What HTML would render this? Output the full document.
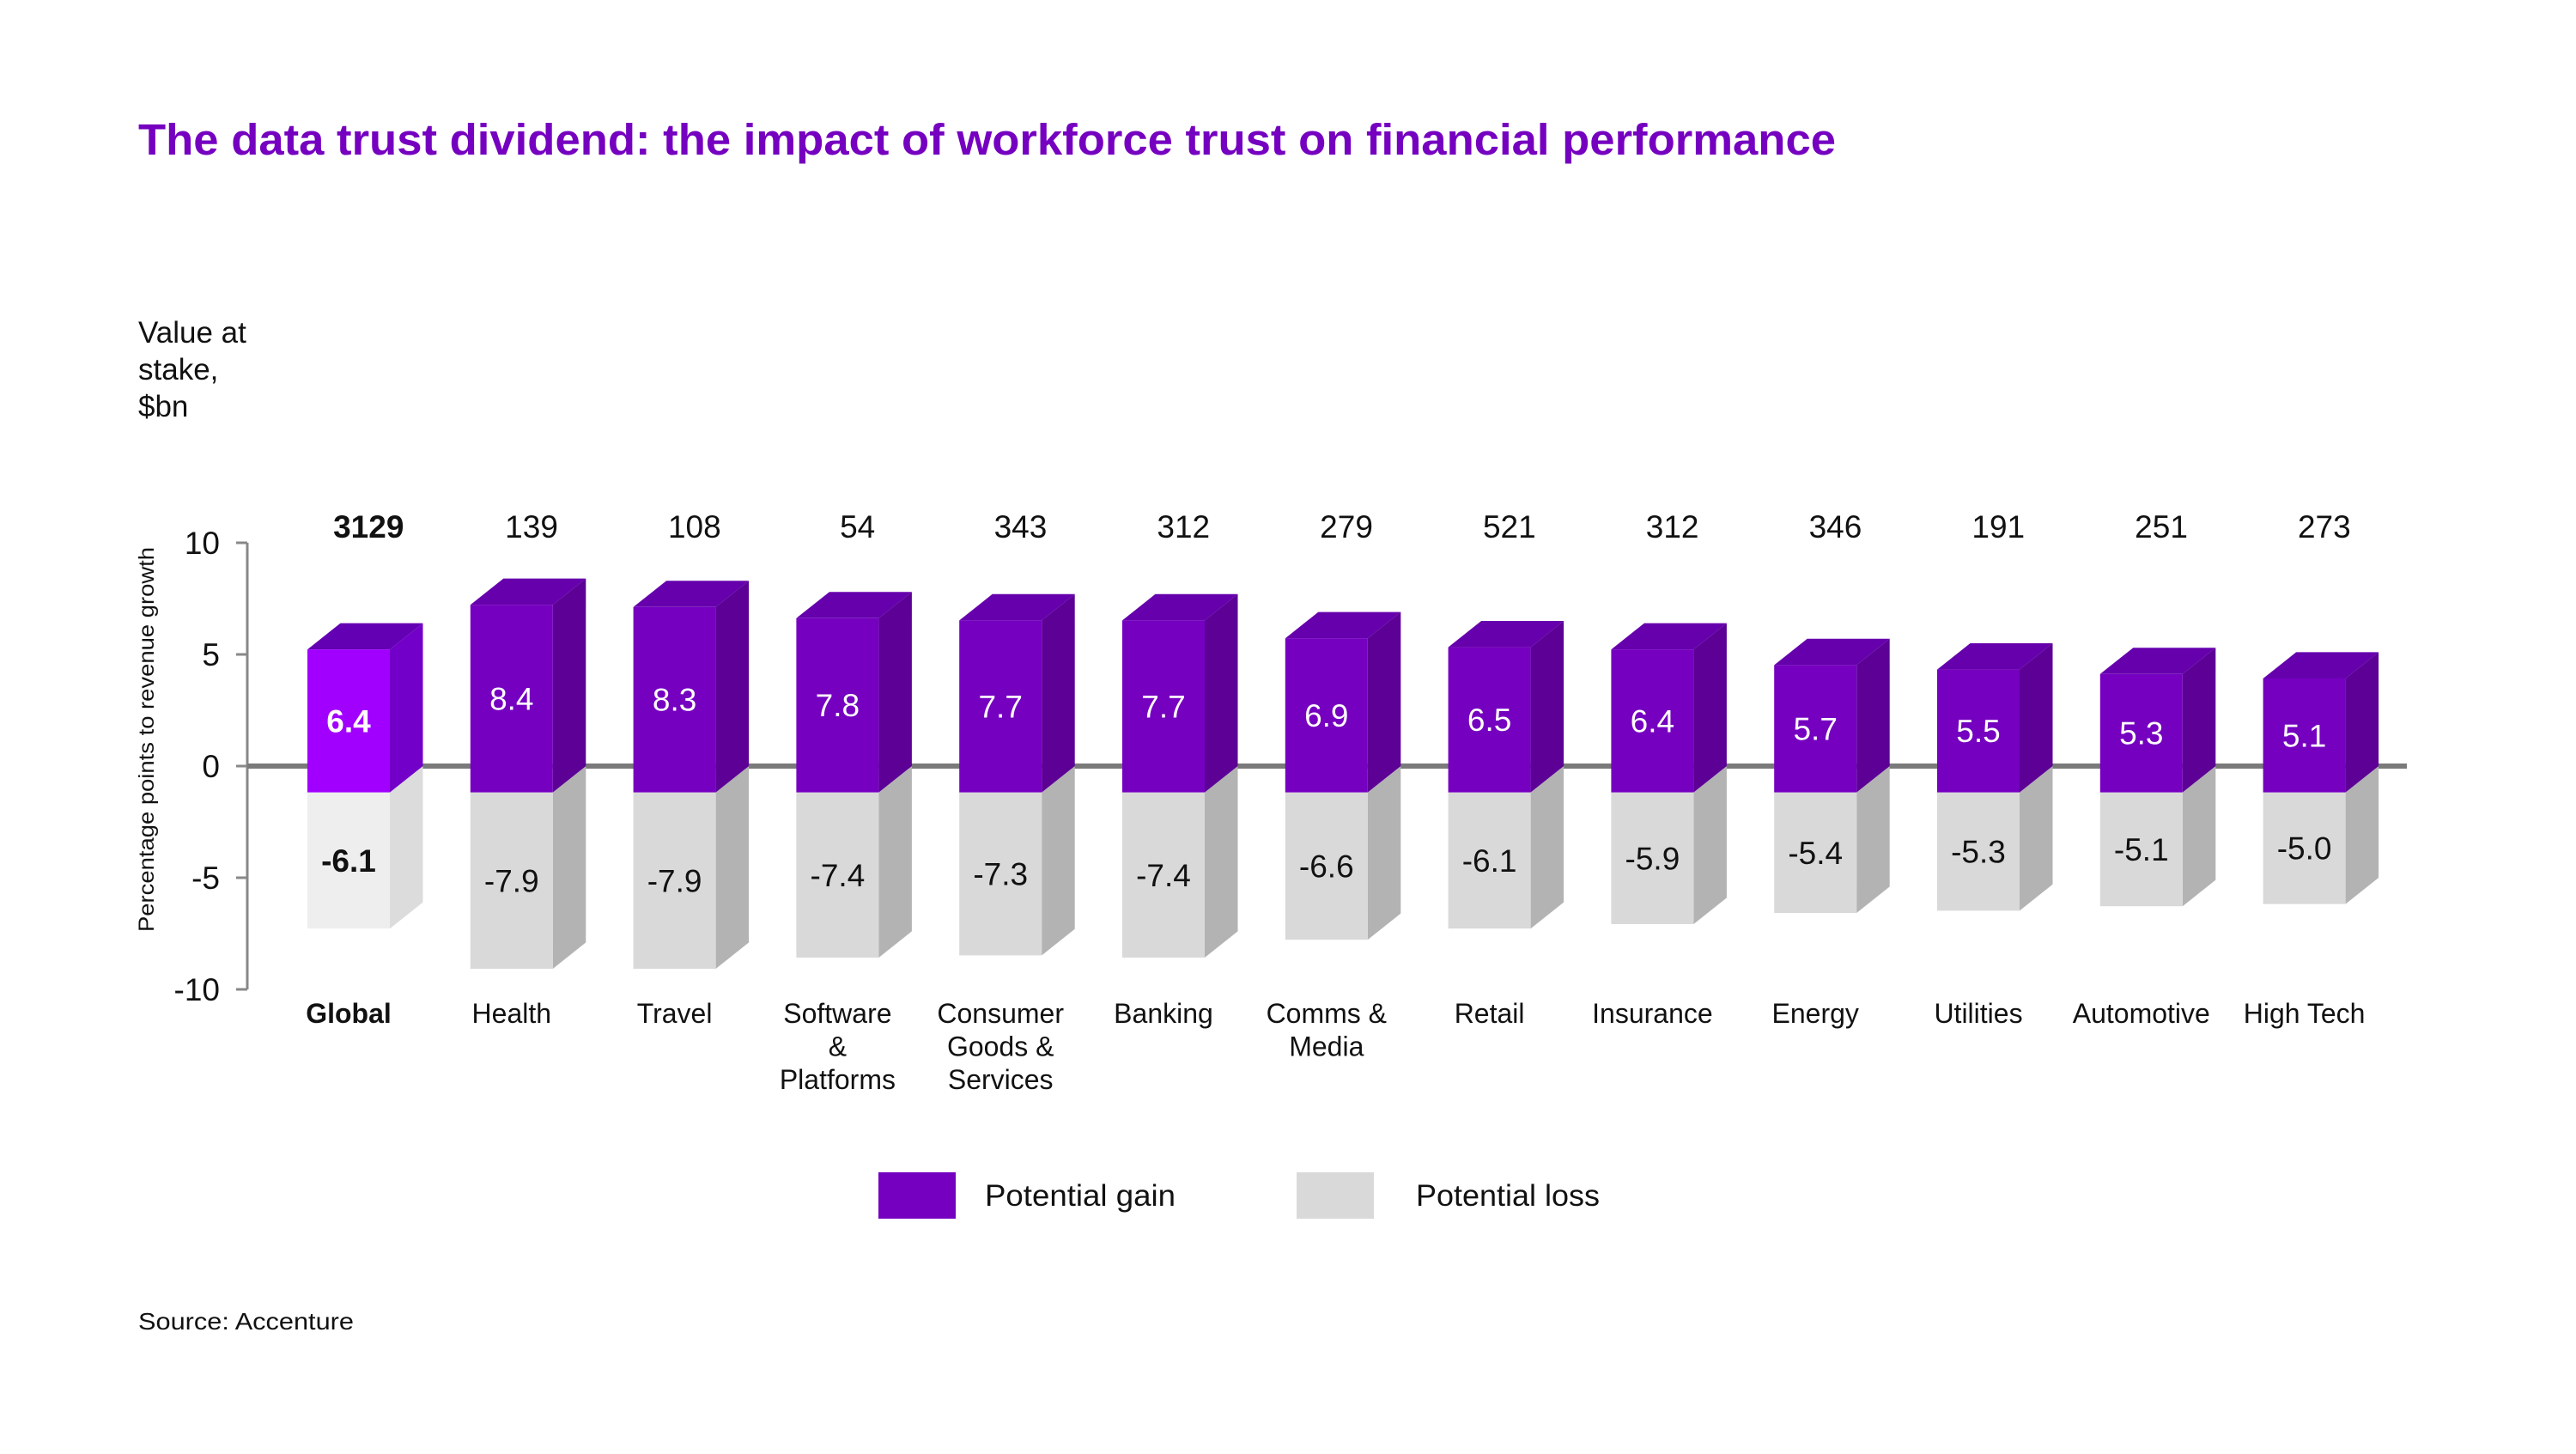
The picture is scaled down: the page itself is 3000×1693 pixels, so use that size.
<!DOCTYPE html>
<html><head><meta charset="utf-8"><style>
html,body{margin:0;padding:0;background:#fff;}
body{width:3000px;height:1688px;overflow:hidden;font-family:"Liberation Sans",sans-serif;}
svg text{font-family:"Liberation Sans",sans-serif;}
</style></head><body>
<svg id="chart" width="3000" height="1688" viewBox="0 0 3000 1688" xmlns="http://www.w3.org/2000/svg">
<text x="161" y="180" font-size="51" font-weight="bold" fill="#7500c0" textLength="1977" lengthAdjust="spacingAndGlyphs">The data trust dividend: the impact of workforce trust on financial performance</text>
<g font-size="35" fill="#111">
<text x="161" y="399">Value at</text><text x="161" y="442">stake,</text><text x="161" y="485">$bn</text>
</g>
<text transform="translate(179,861) rotate(-90)" text-anchor="middle" font-size="25" fill="#111" textLength="448" lengthAdjust="spacingAndGlyphs">Percentage points to revenue growth</text>
<g id="axis"></g>
<g id="bars"></g>
<g>
<rect x="1023" y="1365" width="90" height="54" fill="#7500c0"/>
<text x="1147" y="1404" font-size="35" fill="#111" textLength="222" lengthAdjust="spacingAndGlyphs">Potential gain</text>
<rect x="1510" y="1365" width="90" height="54" fill="#d9d9d9"/>
<text x="1649" y="1404" font-size="35" fill="#111" textLength="214" lengthAdjust="spacingAndGlyphs">Potential loss</text>
</g>
<text x="161" y="1548" font-size="28" fill="#111" textLength="251" lengthAdjust="spacingAndGlyphs">Source: Accenture</text>
</svg>
<script>
const categories=[["Global"],["Health"],["Travel"],["Software","&","Platforms"],["Consumer","Goods &","Services"],["Banking"],["Comms &","Media"],["Retail"],["Insurance"],["Energy"],["Utilities"],["Automotive"],["High Tech"]];
const gains=[6.4,8.4,8.3,7.8,7.7,7.7,6.9,6.5,6.4,5.7,5.5,5.3,5.1];
const losses=[-6.1,-7.9,-7.9,-7.4,-7.3,-7.4,-6.6,-6.1,-5.9,-5.4,-5.3,-5.1,-5.0];
const stakes=["3129","139","108","54","343","312","279","521","312","346","191","251","273"];
const yTicks=[10,5,0,-5,-10];

const NS="http://www.w3.org/2000/svg";
const zeroY=892, k=26.0;
function y(v){return zeroY-v*k;}
function xb(i){return 358+i*189.8;}
const W=96,D=38.5,DY=30.6;
function mk(tag,attrs,parent,txt){const e=document.createElementNS(NS,tag);for(const a in attrs)e.setAttribute(a,attrs[a]);if(txt!==undefined)e.textContent=txt;parent.appendChild(e);return e;}
const ax=document.getElementById('axis');
let l=mk('line',{x1:288,y1:y(10),x2:288,y2:y(-10),stroke:'#888','stroke-width':3},ax);


yTicks.forEach(t=>{
 const tk=mk('line',{x1:275,y1:y(t),x2:288,y2:y(t),stroke:'#888','stroke-width':3},ax);
 
 
 const tl=mk('text',{x:256,y:y(t)+13,'text-anchor':'end','font-size':37,fill:'#111'},ax,String(t));
 
 
});
const bg=document.getElementById('bars');
const zl=mk('line',{x1:288,y1:zeroY,x2:2803,y2:zeroY,stroke:'#7a7a7a','stroke-width':6},bg);


categories.forEach((c,i)=>{
 const x=xb(i), g=gains[i], lo=losses[i], gl=i===0;
 const base=zeroY+DY;
 const gTop=base-g*k, lBot=base-lo*k;
 const grp=mk('g',{},bg);
 
 
 const ls=mk('polygon',{points:`${x+W},${base} ${x+W+D},${base-DY} ${x+W+D},${lBot-DY} ${x+W},${lBot}`,fill:gl?'#dcdcdc':'#b3b3b3'},grp);
 
 
 const lf=mk('rect',{x:x,y:base,width:W,height:lBot-base,fill:gl?'#eeeeee':'#d9d9d9'},grp);
 
 
 const gt=mk('polygon',{points:`${x},${gTop} ${x+D},${gTop-DY} ${x+W+D},${gTop-DY} ${x+W},${gTop}`,fill:gl?'#6400b4':'#6600ad'},grp);
 
 
 const gs=mk('polygon',{points:`${x+W},${gTop} ${x+W+D},${gTop-DY} ${x+W+D},${base-DY} ${x+W},${base}`,fill:gl?'#7300c8':'#5c0096'},grp);
 
 
 const gf=mk('rect',{x:x,y:gTop,width:W,height:base-gTop,fill:gl?'#a100ff':'#7500c0'},grp);
 
 
 const gv=mk('text',{x:x+W/2,y:(gTop+base)/2+13,'text-anchor':'middle','font-size':37,fill:'#fff','font-weight':gl?'bold':'normal'},grp,gains[i].toFixed(1));
 
 
 const lv=mk('text',{x:x+W/2,y:(base+lBot)/2+13,'text-anchor':'middle','font-size':37,fill:'#111','font-weight':gl?'bold':'normal'},grp,losses[i].toFixed(1));
 
 
 const sv=mk('text',{x:x+(W+D)/2+4,y:626,'text-anchor':'middle','font-size':37,fill:'#111','font-weight':gl?'bold':'normal'},grp,stakes[i]);
 
 
 const ct=mk('text',{'text-anchor':'middle','font-size':32,fill:'#111','font-weight':gl?'bold':'normal'},grp);
 
 
 c.forEach((ln,j)=>{mk('tspan',{x:x+W/2,y:1191+j*38.5},ct,ln);});
});
</script>
</body></html>
